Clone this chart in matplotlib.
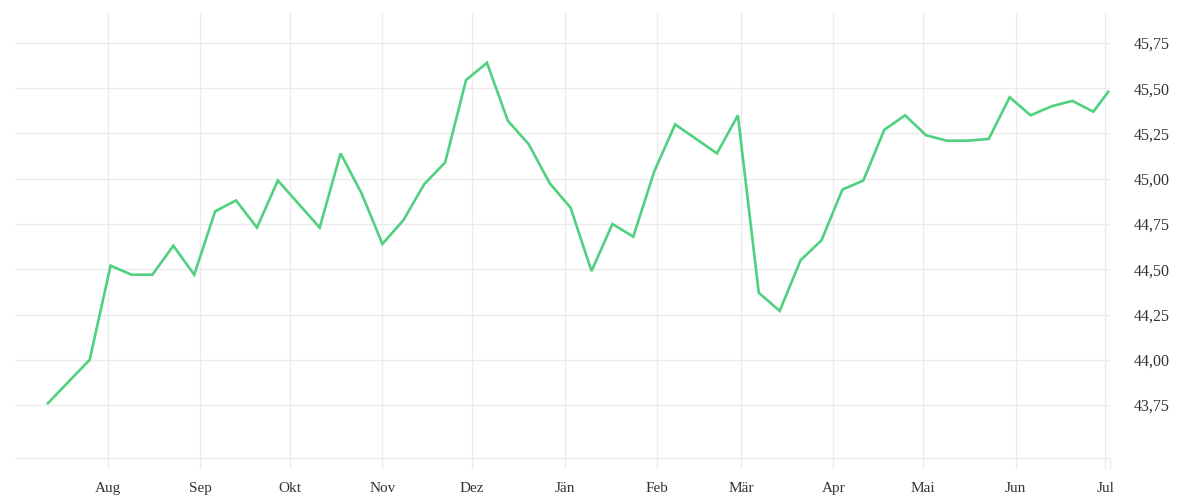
import matplotlib
matplotlib.use("Agg")
import matplotlib.pyplot as plt
import matplotlib.dates as mdates
import pandas as pd

dates = list(pd.date_range("2022-07-12", periods=51, freq="7D")) + [pd.Timestamp("2023-07-02")]
values = [43.76, 43.88, 44.00, 44.52, 44.47, 44.47, 44.63, 44.47, 44.82, 44.88,
          44.73, 44.99, 44.86, 44.73, 45.14, 44.92, 44.64, 44.77, 44.97, 45.09,
          45.545, 45.64, 45.32, 45.19, 44.975, 44.84, 44.49, 44.75, 44.68, 45.04,
          45.30, 45.22, 45.14, 45.35, 44.37, 44.27, 44.55, 44.66, 44.94, 44.99,
          45.27, 45.35, 45.24, 45.21, 45.21, 45.22, 45.45, 45.35, 45.40, 45.43,
          45.37, 45.48]
month_ticks = ["2022-08-01", "2022-09-01", "2022-10-01", "2022-11-01", "2022-12-01",
               "2023-01-01", "2023-02-01", "2023-03-01", "2023-04-01", "2023-05-01",
               "2023-06-01", "2023-07-01"]
month_labels = ["Aug", "Sep", "Okt", "Nov", "Dez", "Jän", "Feb", "Mär", "Apr", "Mai", "Jun", "Jul"]
y_ticks = [43.75, 44.00, 44.25, 44.50, 44.75, 45.00, 45.25, 45.50, 45.75]

grid_c = "#ebebeb"
text_c = "#333333"
plt.rcParams["font.family"] = ["Liberation Serif", "DejaVu Serif"]

fig = plt.figure(figsize=(12, 5), dpi=100)
ax = fig.add_axes([0.0125, 0.0834, 0.9125, 0.8916])

ax.plot(dates, values, color="#4fd17f", linewidth=1.9, solid_joinstyle="miter", zorder=3)

ax.set_xlim(pd.Timestamp("2022-07-01"), pd.Timestamp("2023-07-02 14:00"))
ax.set_ylim(43.456, 45.918)

ax.set_xticks([mdates.date2num(pd.Timestamp(d)) for d in month_ticks])
ax.set_xticklabels(month_labels)
ax.set_xticks([mdates.date2num(pd.Timestamp("2023-07-02 14:00"))], minor=True)
ax.yaxis.tick_right()
ax.set_yticks(y_ticks)
ax.set_yticklabels([f"{v:.2f}".replace(".", ",") for v in y_ticks])

ax.grid(True, which="both", axis="x", color=grid_c, linewidth=1)
ax.grid(True, axis="y", color=grid_c, linewidth=1)
ax.set_axisbelow(True)

for s in ["top", "left", "right"]:
    ax.spines[s].set_visible(False)
ax.spines["bottom"].set_color(grid_c)
ax.spines["bottom"].set_linewidth(1)

ax.tick_params(axis="x", which="both", length=8, width=1, color=grid_c,
               labelcolor=text_c, labelsize=11, pad=9)
ax.tick_params(axis="y", length=0, labelcolor=text_c, labelsize=11.5, pad=17)
for lab in ax.get_yticklabels():
    lab.set_horizontalalignment("left")

fig.savefig("out.png", dpi=100, facecolor="white")
